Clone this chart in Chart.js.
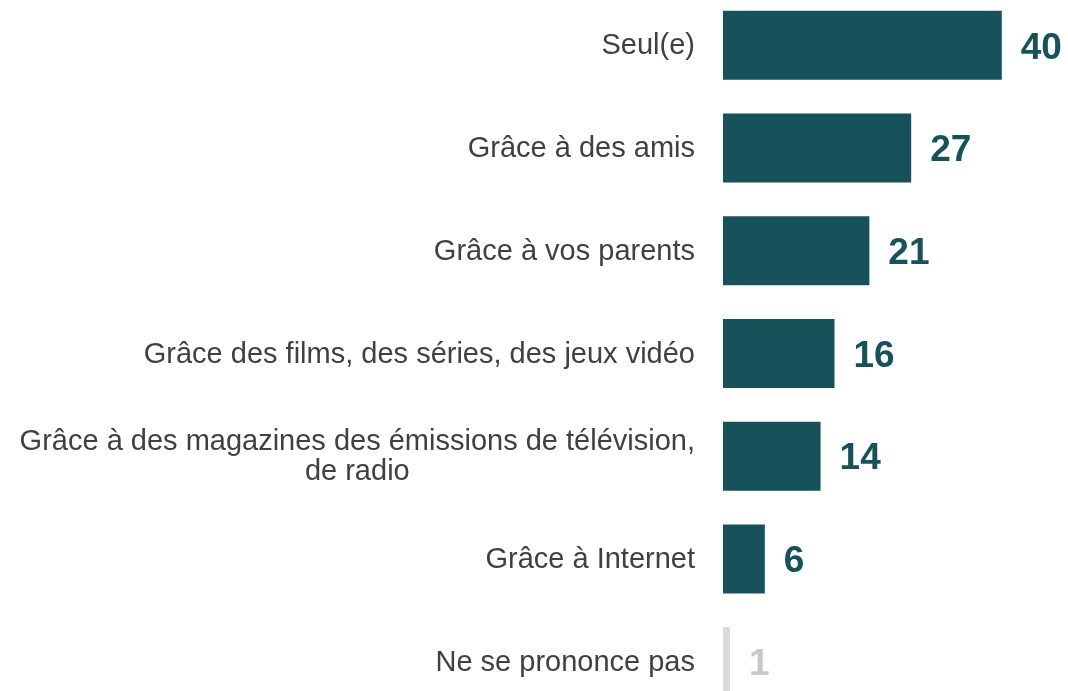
<!DOCTYPE html>
<html>
<head>
<meta charset="utf-8">
<script src="https://cdn.jsdelivr.net/npm/chart.js@4"></script>
<style>
  html, body { margin: 0; padding: 0; background: #fff; overflow: hidden; }
  #wrap { position: absolute; left: 0; top: -6px; width: 1068px; height: 719px; }
</style>
</head>
<body>
<div id="wrap"><canvas id="chart"></canvas></div>
<script>
// Données
const categories = [
  'Seul(e)',
  'Grâce à des amis',
  'Grâce à vos parents',
  'Grâce des films, des séries, des jeux vidéo',
  ['Grâce à des magazines des émissions de télévision,', 'de radio'],
  'Grâce à Internet',
  'Ne se prononce pas'
];
const values = [40, 27, 21, 16, 14, 6, 1];
const barColors = ['#175159', '#175159', '#175159', '#175159', '#175159', '#175159', '#d9d9d9'];
const valueColors = ['#175159', '#175159', '#175159', '#175159', '#175159', '#175159', '#c8c8c8'];

// Libellés des catégories, à gauche des barres
const categoryLabels = {
  id: 'categoryLabels',
  afterDraw(chart) {
    const {ctx, chartArea: {left}, scales: {y}} = chart;
    ctx.save();
    ctx.fillStyle = '#404040';
    ctx.font = '29px "Liberation Sans", Arial, sans-serif';
    ctx.textBaseline = 'middle';
    const right = left - 28;
    const lineH = 30;
    categories.forEach((lab, i) => {
      const cy = y.getPixelForValue(i);
      const lines = Array.isArray(lab) ? lab : [lab];
      const w = Math.max(...lines.map(l => ctx.measureText(l).width));
      const cx = right - w / 2;
      ctx.textAlign = 'center';
      lines.forEach((l, j) => {
        ctx.fillText(l, cx, cy + (j - (lines.length - 1) / 2) * lineH + 1);
      });
    });
    ctx.restore();
  }
};

// Valeurs au bout des barres
const valueLabels = {
  id: 'valueLabels',
  afterDatasetsDraw(chart) {
    const {ctx} = chart;
    const meta = chart.getDatasetMeta(0);
    ctx.save();
    ctx.font = 'bold 37px "Liberation Sans", Arial, sans-serif';
    ctx.textAlign = 'left';
    ctx.textBaseline = 'middle';
    meta.data.forEach((bar, i) => {
      ctx.fillStyle = valueColors[i];
      ctx.fillText(String(values[i]), bar.x + 19, bar.y + 3);
    });
    ctx.restore();
  }
};

new Chart(document.getElementById('chart'), {
  type: 'bar',
  data: {
    labels: categories,
    datasets: [{
      data: values,
      backgroundColor: barColors,
      borderWidth: 0,
      barPercentage: 0.672,
      categoryPercentage: 1
    }]
  },
  options: {
    indexAxis: 'y',
    responsive: true,
    maintainAspectRatio: false,
    animation: false,
    layout: { padding: { left: 723, right: 0, top: 0, bottom: 0 } },
    scales: {
      x: { display: false, min: 0, max: 49.5 },
      y: { display: false }
    },
    plugins: {
      legend: { display: false },
      tooltip: { enabled: false }
    }
  },
  plugins: [categoryLabels, valueLabels]
});
</script>
</body>
</html>
